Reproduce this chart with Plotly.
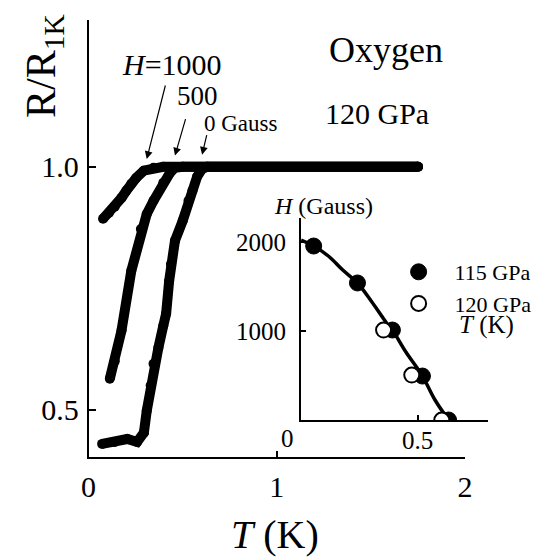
import plotly.graph_objects as go

W, H = 542, 557
FONT = "Times New Roman, Liberation Serif, DejaVu Serif, serif"

# ---- main panel data: R/R1K vs T (K) ----
t_h0 = [0.072, 0.139, 0.206, 0.258, 0.294, 0.309, 0.330, 0.345, 0.371, 0.397, 0.412,
        0.428, 0.438, 0.459, 0.500, 0.531, 0.552, 0.577, 0.603, 0.630, 1.75]
r_h0 = [0.430, 0.434, 0.440, 0.434, 0.453, 0.498, 0.550, 0.595, 0.628, 0.673, 0.698,
        0.765, 0.800, 0.848, 0.889, 0.930, 0.951, 0.980, 0.996, 1.000, 1.000]

t_h500 = [0.113, 0.139, 0.175, 0.227, 0.278, 0.309, 0.345, 0.397, 0.433, 0.459, 0.500, 1.75]
r_h500 = [0.564, 0.600, 0.663, 0.786, 0.872, 0.903, 0.930, 0.967, 0.988, 0.998, 1.000, 1.000]

t_h1000 = [0.077, 0.108, 0.139, 0.175, 0.201, 0.227, 0.253, 0.294, 0.345, 0.397, 1.75]
r_h1000 = [0.893, 0.905, 0.918, 0.936, 0.951, 0.965, 0.977, 0.992, 0.998, 1.000, 1.000]

main_xticks = [0, 1, 2]
main_yticks = [0.5, 1.0]
main_yticklabels = ["0.5", "1.0"]

# ---- inset data: H (Gauss) vs T (K) ----
t_115 = [0.054, 0.242, 0.392, 0.521, 0.633]
h_115 = [1955, 1540, 1011, 494, 0]
t_120 = [0.354, 0.475, 0.604]
h_120 = [1011, 505, 0]
t_fit = [0.0, 0.054, 0.117, 0.179, 0.242, 0.304, 0.367, 0.392, 0.450, 0.521, 0.575, 0.633]
h_fit = [2022, 1955, 1843, 1685, 1539, 1326, 1090, 1011, 764, 494, 225, 0]
inset_xticks = [0.5]
inset_yticks = [1000, 2000]

fig = go.Figure()

for tx, ry in [(t_h0, r_h0), (t_h500, r_h500), (t_h1000, r_h1000)]:
    fig.add_trace(go.Scatter(x=tx, y=ry, mode="lines+markers",
                             line=dict(color="black", width=10),
                             marker=dict(color="black", size=10),
                             showlegend=False, xaxis="x", yaxis="y"))

fig.add_trace(go.Scatter(x=t_fit, y=h_fit, mode="lines", line=dict(color="black", width=3.5, shape="spline"),
                         showlegend=False, xaxis="x2", yaxis="y2"))
fig.add_trace(go.Scatter(x=t_115, y=h_115, mode="markers", name="115 GPa",
                         marker=dict(color="black", size=16, line=dict(color="black", width=1)),
                         xaxis="x2", yaxis="y2"))
fig.add_trace(go.Scatter(x=t_120, y=h_120, mode="markers", name="120 GPa",
                         marker=dict(color="white", size=15, line=dict(color="black", width=2)),
                         xaxis="x2", yaxis="y2"))

def px(x):
    return x / W

def py(y):
    return 1 - y / H

ann = []
def text(s, x, y, size, xanchor="center", **kw):
    ann.append(dict(text=s, x=px(x), y=py(y), xref="paper", yref="paper", showarrow=False,
                    xanchor=xanchor, yanchor="middle", font=dict(family=FONT, size=size, color="black"), **kw))

text("R/R<sub>1K</sub>", 37, 66, 42, textangle=-90)
text("<i>T</i> (K)", 275, 534, 40)
text("Oxygen", 390, 50, 36)
text("120 GPa", 380, 113, 30)
text("<i>H</i>=1000", 115, 64, 30, xanchor="left")
text("500", 172, 96, 27, xanchor="left")
text("0 Gauss", 200, 124, 23, xanchor="left")
text("<i>H</i> (Gauss)", 272, 206, 24, xanchor="left")
text("<i>T</i> (K)", 463, 325, 25, xanchor="left")
text("0", 288, 438, 25)

# arrows (tip on the curves, in data coords)
for tip_t, tip_r, axp, ayp in [(0.309, 1.016, 19, -75), (0.459, 1.023, 11, -38), (0.603, 1.025, 5, -21)]:
    ann.append(dict(x=tip_t, y=tip_r, xref="x", yref="y", ax=axp, ay=ayp, text="",
                    showarrow=True, arrowhead=2, arrowsize=1.3, arrowwidth=1.2, arrowcolor="black"))

axis_common = dict(showgrid=False, zeroline=False, showline=True, linecolor="black",
                   ticks="inside", tickcolor="black")

fig.update_layout(
    width=W, height=H, margin=dict(l=0, r=0, t=0, b=0),
    paper_bgcolor="white", plot_bgcolor="rgba(0,0,0,0)",
    font=dict(family=FONT, color="black"),
    xaxis=dict(domain=[83 / W, 471 / W], range=[0, 2], tickvals=main_xticks,
               linewidth=1.5, tickwidth=1.5, ticklen=6, tickfont=dict(size=30, family=FONT),
               ticklabelstandoff=2, anchor="y", **axis_common),
    yaxis=dict(domain=[py(457), py(20)], range=[0.403, 1.302], tickvals=main_yticks,
               ticktext=main_yticklabels, linewidth=1.5, tickwidth=1.5, ticklen=8,
               tickfont=dict(size=30, family=FONT), ticklabelstandoff=2, anchor="x", **axis_common),
    xaxis2=dict(domain=[302 / W, 495 / W], range=[0, 0.804], tickvals=inset_xticks, ticktext=["0.5"],
                linewidth=2, tickwidth=1.5, ticklen=5, tickfont=dict(size=25, family=FONT),
                ticklabelstandoff=-3, anchor="y2", **axis_common),
    yaxis2=dict(domain=[py(420), py(218)], range=[0, 2270], tickvals=inset_yticks,
                linewidth=2, tickwidth=1.5, ticklen=5, tickfont=dict(size=25, family=FONT),
                ticklabelstandoff=8, anchor="x2", **axis_common),
    legend=dict(x=386 / W, y=py(251), xanchor="left", yanchor="top", itemwidth=62,
                bgcolor="rgba(0,0,0,0)", font=dict(size=22, family=FONT), tracegroupgap=0),
    annotations=ann,
)

fig.write_html("out.html")
